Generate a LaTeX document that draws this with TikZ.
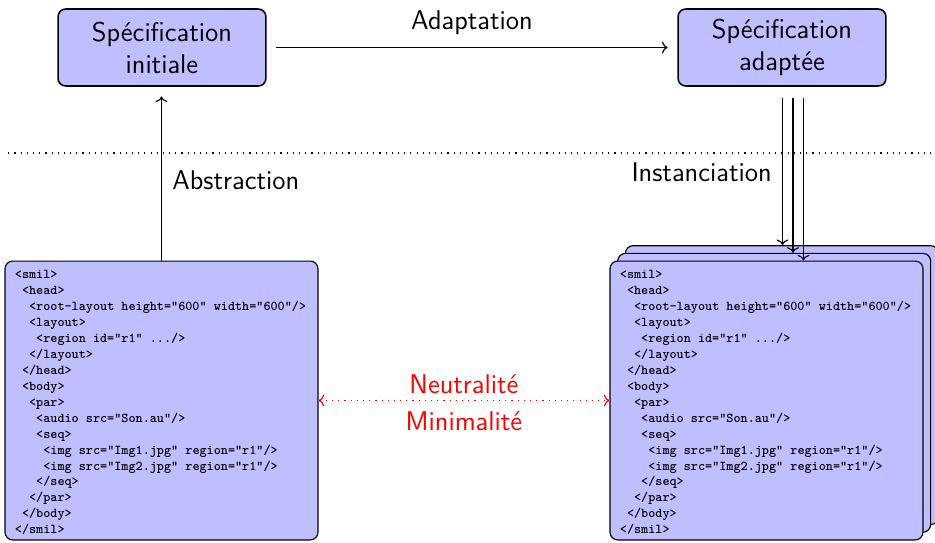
\documentclass[tikz,border=0pt]{standalone}
\usepackage{fontspec}
\newfontfamily\smilfont{lmmonolt10-bold.otf}
\usepackage{xcolor}
\definecolor{specblue}{RGB}{191,191,255}
\usepackage{tikz}
\usetikzlibrary{arrows.meta}

\newcommand{\smilstyle}{\smilfont\fontsize{7}{8.25}\selectfont}
\newcommand{\spc}{\leavevmode\hbox{\hphantom{0}}}
\newcommand{\smilsrc}{%
\rule{0pt}{6.5pt}<smil>\\
\spc<head>\\
\spc\spc<root-layout\spc{}height="600"\spc{}width="600"/>\\
\spc\spc<layout>\\
\spc\spc\spc<region\spc{}id="r1"\spc{}.../>\\
\spc\spc</layout>\\
\spc</head>\\
\spc<body>\\
\spc\spc<par>\\
\spc\spc\spc<audio\spc{}src="Son.au"/>\\
\spc\spc\spc<seq>\\
\spc\spc\spc\spc<img\spc{}src="Img1.jpg"\spc{}region="r1"/>\\
\spc\spc\spc\spc<img\spc{}src="Img2.jpg"\spc{}region="r1"/>\\
\spc\spc\spc</seq>\\
\spc\spc</par>\\
\spc</body>\\
</smil>}

\begin{document}
\begin{tikzpicture}[
  spec/.style={draw, thick, fill=specblue, rounded corners=4pt, align=center,
    font=\sffamily\fontsize{14}{16.6}\selectfont,
    minimum width=3.78cm, minimum height=1.4cm},
  codebox/.style={draw, semithick, fill=specblue, rounded corners=4pt,
    text width=5.33cm, inner xsep=0.18cm, inner ysep=1pt,
    minimum height=5.07cm, align=left, font=\smilstyle},
  lbl/.style={font=\sffamily\fontsize{14}{16.6}\selectfont},
  dots/.style={semithick, dash pattern=on 0.6pt off 2.6pt}
]
  \useasboundingbox (0,0) rectangle (17.0,-9.855);

  % --- Specifications ---
  \node[spec] (init)  at (2.945,-0.864)  {Spécification\\initiale};
  \node[spec] (adapt) at (14.218,-0.864) {Spécification\\adaptée};

  % Separator
  \draw[dots] (0.15,-2.782) -- (17.0,-2.782);

  % --- SMIL documents ---
  \node[codebox] (doc)   at (2.936,-7.282)  {\smilsrc};
  \node[codebox] (inst3) at (14.216,-7.002) {};
  \node[codebox] (inst2) at (14.076,-7.142) {};
  \node[codebox] (inst1) at (13.936,-7.282) {\smilsrc};

  % --- Arrows ---
  \draw[->, semithick, shorten <=5pt, shorten >=5pt]
    (init) -- node[lbl, above=3pt] {Adaptation} (adapt);
  \draw[->, semithick, shorten >=5pt]
    (doc.north) -- node[lbl, right=2pt, pos=0.46] {Abstraction} (doc.north |- init.south);

  % Instanciation: one arrow per copy
  \coordinate (s1) at ([xshift=0.01cm]adapt.south);
  \coordinate (s2) at ([xshift=0.2cm]adapt.south);
  \coordinate (s3) at ([xshift=0.39cm]adapt.south);
  \draw[->, semithick, shorten <=6pt]
    (s1) -- node[lbl, left=2pt, pos=0.54] {Instanciation} (s1 |- inst3.north);
  \draw[->, semithick, shorten <=6pt] (s2) -- (s2 |- inst2.north);
  \draw[->, semithick, shorten <=6pt] (s3) -- (s3 |- inst1.north);

  % Properties
  \draw[<->, red, dots] (doc) --
    node[lbl, above] {Neutralité}
    node[lbl, below=2pt] {Minimalité} (inst1);
\end{tikzpicture}
\end{document}
